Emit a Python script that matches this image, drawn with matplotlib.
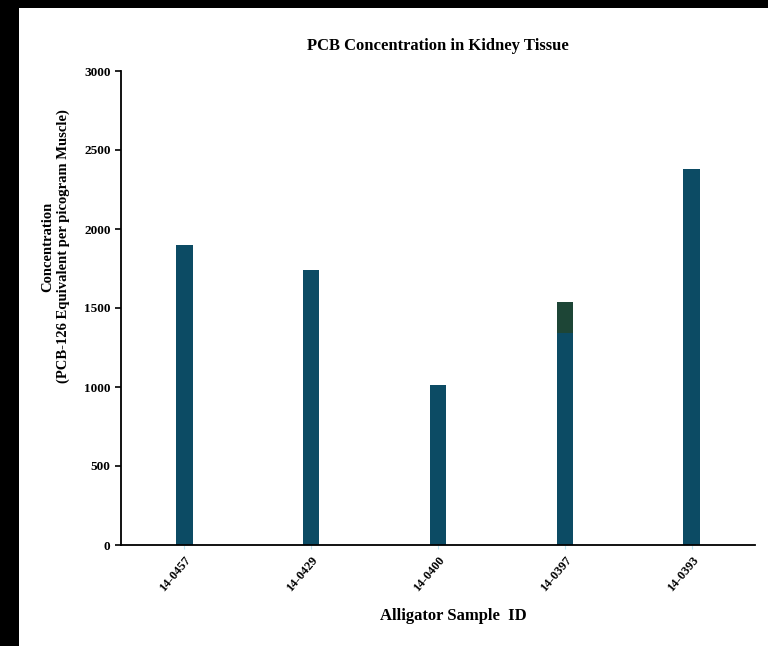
import matplotlib.pyplot as plt
from matplotlib.patches import Rectangle

samples = ['14-0457', '14-0429', '14-0400', '14-0397', '14-0393']
concentration = [1900, 1740, 1010, 1340, 2380]
extra = [0, 0, 0, 200, 0]  # dark top segment on 14-0397

plt.rcParams['font.family'] = 'Liberation Serif'
plt.rcParams['font.weight'] = 'bold'

fig = plt.figure(figsize=(7.68, 6.46), dpi=100, facecolor='black')
# white page area inside the black border
fig.patches.append(Rectangle((19 / 768, 0), 1 - 19 / 768, 1 - 8 / 646,
                             transform=fig.transFigure, facecolor='white',
                             edgecolor='none', zorder=-1))

ax = fig.add_axes([121 / 768, 101 / 646, 634 / 768, 474 / 646])
ax.set_facecolor('white')

x = range(len(samples))
ax.bar(x, concentration, width=0.13, color='#0c4b64')
ax.bar(x, extra, width=0.13, bottom=concentration, color='#1d4536')

ax.set_xlim(-0.5, 4.5)
ax.set_ylim(0, 3000)
ax.set_yticks([0, 500, 1000, 1500, 2000, 2500, 3000])
ax.set_xticks(list(x))
ax.set_xticklabels(samples, rotation=50, ha='right', rotation_mode='anchor')

for s in ['top', 'right']:
    ax.spines[s].set_visible(False)
for s in ['left', 'bottom']:
    ax.spines[s].set_linewidth(1.3)
ax.tick_params(axis='y', labelsize=9.5, length=4, width=1.2)
ax.tick_params(axis='x', labelsize=9, length=3, width=0.8, color='#bfe6f2')

ax.set_title('PCB Concentration in Kidney Tissue', fontsize=12, fontweight='bold', pad=15)
ax.set_xlabel('Alligator Sample  ID', fontsize=12, fontweight='bold')
ax.xaxis.set_label_coords(0.525, -0.132)
ax.set_ylabel('Concentration\n(PCB-126 Equivalent per picogram Muscle)', fontsize=10.5,
              fontweight='bold')
ax.yaxis.set_label_coords(-0.08, 0.63)

fig.savefig('out.png', dpi=100, facecolor=fig.get_facecolor())
